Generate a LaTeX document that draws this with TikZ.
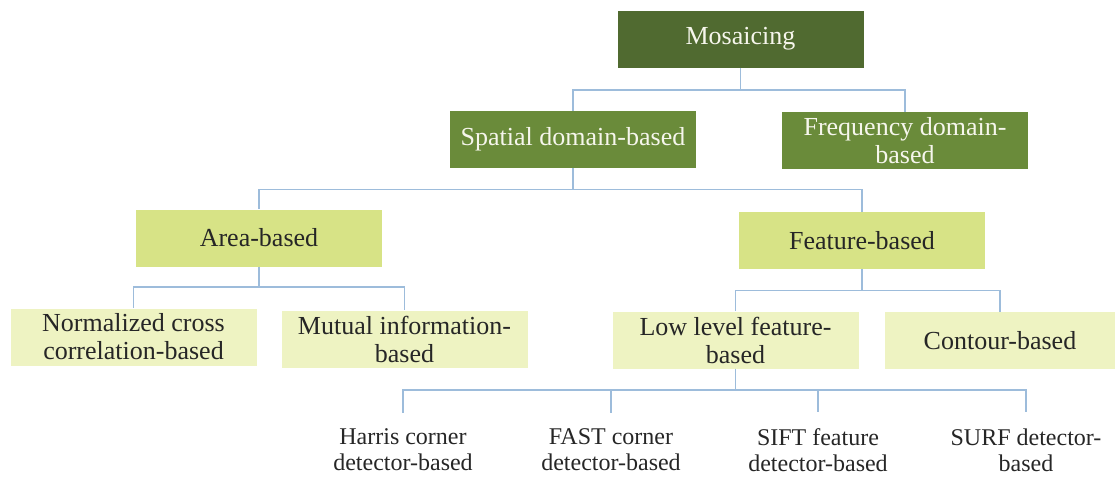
\documentclass[tikz,border=0pt]{standalone}
\usepackage{fontspec}
\setmainfont{Liberation Serif}
\usetikzlibrary{positioning}
\definecolor{mosdark}{HTML}{506A30}
\definecolor{mosmid}{HTML}{6A8B3A}
\definecolor{moslight}{HTML}{D7E386}
\definecolor{mospale}{HTML}{EEF3C2}
\definecolor{moslink}{HTML}{9DBCDB}
\definecolor{mostext}{HTML}{F6F6EC}

\begin{document}
\begin{tikzpicture}[x=0.5pt, y=-0.5pt,
    every node/.style={font=\fontsize{13}{14}\selectfont, align=center},
    box/.style={rectangle, inner sep=0pt, minimum width=123pt, minimum height=28.5pt},
    darkbox/.style={box, fill=mosdark, text=mostext},
    midbox/.style={box, fill=mosmid, text=mostext},
    lightbox/.style={box, fill=moslight, text=black!85},
    palebox/.style={box, fill=mospale, text=black!85},
    leaf/.style={inner sep=8pt, font=\fontsize{12}{13}\selectfont, text=black!85},
    link/.style={draw=moslink, line width=0.6pt}]
      \useasboundingbox (0,0) rectangle (1116,479);
      % top levels
      \node[darkbox] (mos) at (740.5, 39) {Mosaicing};
      \node[midbox] (spat) at (573, 139.5) {Spatial domain-based};
      \node[midbox] (freq) at (905, 140.5) {Frequency domain-\\based};
      \node[lightbox] (area) at (259, 238) {Area-based};
      \node[lightbox] (feat) at (862, 240.5) {Feature-based};
      % third level
      \node[palebox] (ncc) at (133.5, 337) {Normalized cross\\correlation-based};
      \node[palebox] (mutual) at (404.5, 339) {Mutual information-\\based};
      \node[palebox] (low) at (735.5, 340) {Low level feature-\\based};
      \node[palebox, minimum width=115pt] (contour) at (1000, 340.5) {Contour-based};
      % detectors
      \node[leaf] (harris) at (403, 450) {Harris corner\\detector-based};
      \node[leaf] (fast) at (611, 450) {FAST corner\\detector-based};
      \node[leaf] (sift) at (818, 450) {SIFT feature\\detector-based};
      \node[leaf] (surf) at (1026, 450) {SURF detector-\\based};
      \foreach \c in {spat,freq} \draw[link] (mos.south) -- ++(0,22) -| (\c.north);
      \foreach \c in {area,feat} \draw[link] (spat.south) -- ++(0,21) -| (\c.north);
      \foreach \c in {ncc,mutual} \draw[link] (area.south) -- ++(0,20) -| (\c.north);
      \foreach \c in {low,contour} \draw[link] (feat.south) -- ++(0,21) -| (\c.north);
      \foreach \c in {harris,fast,sift,surf} \draw[link] (low.south) -- ++(0,21) -| (\c.north);
    \end{tikzpicture}
\end{document}
